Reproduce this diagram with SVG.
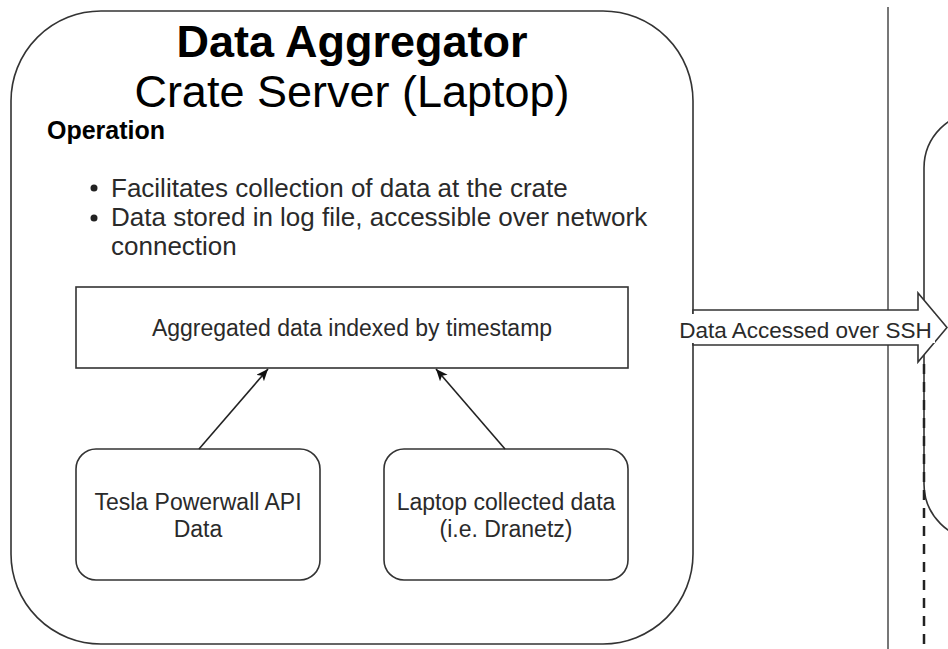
<svg xmlns="http://www.w3.org/2000/svg" width="948" height="649" viewBox="0 0 948 649">
  <style>
    .box { fill: #ffffff; stroke: #333333; stroke-width: 1.6; }
    .t { font-family: "Liberation Sans", Arial, sans-serif; fill: #2a2a2a; }
    .title { font-family: "Liberation Sans", Arial, sans-serif; fill: #000000; }
    .edge { stroke: #222222; stroke-width: 1.6; fill: none; }
  </style>
  <defs>
    <marker id="arrow" markerUnits="userSpaceOnUse" markerWidth="14" markerHeight="12" refX="12" refY="5" orient="auto">
      <path d="M0,0 L12,5 L0,10 L3,5 z" fill="#111111" stroke="none"/>
    </marker>
  </defs>
  <rect width="948" height="649" fill="#ffffff"/>

  <g id="divider">
    <line x1="888" y1="7" x2="888" y2="649" stroke="#555555" stroke-width="1.6"/>
  </g>

  <g id="remote-node">
    <rect class="box" x="924" y="112" width="220" height="428" rx="56" ry="56"/>
  </g>

  <g id="data-aggregator">
    <rect class="box" x="11" y="11" width="682" height="633" rx="90" ry="90"/>
    <text class="title" x="352" y="57" font-size="45" font-weight="bold" text-anchor="middle">Data Aggregator</text>
    <text class="title" x="352" y="107" font-size="45" text-anchor="middle" fill="#111111">Crate Server (Laptop)</text>
    <text class="title" x="47" y="139" font-size="25" font-weight="bold">Operation</text>
    <circle cx="94" cy="188" r="3.5" fill="#222222"/>
    <circle cx="94" cy="218" r="3.5" fill="#222222"/>
    <text class="t" x="111" y="197" font-size="26">Facilitates collection of data at the crate</text>
    <text class="t" x="111" y="226" font-size="26">Data stored in log file, accessible over network</text>
    <text class="t" x="111" y="255" font-size="26">connection</text>
  </g>

  <g id="aggregated-data">
    <rect class="box" x="76" y="287" width="552" height="81"/>
    <text class="t" x="352" y="336" font-size="23" text-anchor="middle">Aggregated data indexed by timestamp</text>
  </g>

  <g id="tesla-powerwall">
    <rect class="box" x="76" y="449" width="244" height="131" rx="20" ry="20"/>
    <text class="t" x="198" y="510" font-size="23" text-anchor="middle">Tesla Powerwall API</text>
    <text class="t" x="198" y="537" font-size="23" text-anchor="middle">Data</text>
  </g>

  <g id="laptop-data">
    <rect class="box" x="384" y="449" width="244" height="131" rx="20" ry="20"/>
    <text class="t" x="506" y="510" font-size="23" text-anchor="middle">Laptop collected data</text>
    <text class="t" x="506" y="537" font-size="23" text-anchor="middle">(i.e. Dranetz)</text>
  </g>

  <g id="connectors">
    <line class="edge" x1="199" y1="449" x2="268" y2="369" marker-end="url(#arrow)"/>
    <line class="edge" x1="505" y1="449" x2="436" y2="369" marker-end="url(#arrow)"/>
    <path d="M693,310 L918,310 L918,293 L947,327.5 L918,362 L918,345 L693,345 Z" fill="#ffffff" stroke="#333333" stroke-width="1.6" stroke-linejoin="miter"/>
    <rect x="676" y="314" width="259" height="29" fill="#ffffff"/>
    <text class="t" x="805.5" y="338" font-size="22.5" text-anchor="middle">Data Accessed over SSH</text>
    <line x1="924" y1="364" x2="924" y2="649" stroke="#222222" stroke-width="2.5" stroke-dasharray="10 8"/>
  </g>
</svg>
